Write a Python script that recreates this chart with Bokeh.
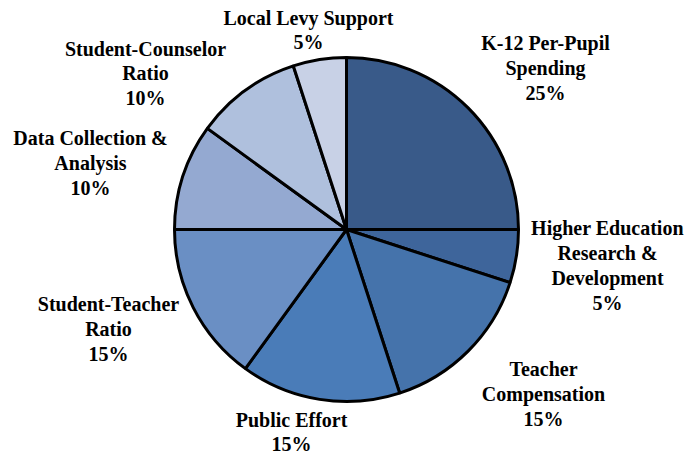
import math
from bokeh.plotting import figure
from bokeh.models import Range1d, ColumnDataSource
from bokeh.core.properties import value
from bokeh.embed import file_html
from bokeh.resources import INLINE

# ---- data ----
categories = [
    "K-12 Per-Pupil\nSpending",
    "Higher Education\nResearch &\nDevelopment",
    "Teacher\nCompensation",
    "Public Effort",
    "Student-Teacher\nRatio",
    "Data Collection &\nAnalysis",
    "Student-Counselor\nRatio",
    "Local Levy Support",
]
shares = [25, 5, 15, 15, 15, 10, 10, 5]
colors = ["#395A89", "#3E659B", "#4573AB", "#4A7CB8",
          "#6A8FC4", "#94A9D1", "#AFC0DD", "#C8D1E6"]

# ---- layout (image pixel coordinates) ----
W, H = 688, 456
cx_px, cy_px, r_px = 346, 229, 172
label_px = [(545, 67.7), (607, 265), (543, 393.5), (291, 431.5),
            (108, 328.3), (90, 162.3), (145, 73), (308, 29.5)]

def to_y(py):
    return H - py

total = float(sum(shares))
starts, ends = [], []
cum = 0.0
for s in shares:
    starts.append(math.pi / 2 - 2 * math.pi * cum / total)
    cum += s
    ends.append(math.pi / 2 - 2 * math.pi * cum / total)

src = ColumnDataSource(dict(start=starts, end=ends, color=colors))

p = figure(width=W, height=H, output_backend="svg", toolbar_location=None,
           x_range=Range1d(0, W), y_range=Range1d(0, H),
           min_border=0)
p.axis.visible = False
p.grid.visible = False
p.outline_line_color = None
p.background_fill_color = "white"
p.border_fill_color = "white"

p.wedge(x=cx_px, y=to_y(cy_px), radius=r_px, start_angle="start", end_angle="end",
        direction="clock", fill_color="color", line_color="black", line_width=3,
        source=src)

texts = [f"{c}\n{s}%" for c, s in zip(categories, shares)]
lsrc = ColumnDataSource(dict(x=[lp[0] for lp in label_px],
                             y=[to_y(lp[1]) for lp in label_px],
                             t=texts))
p.text(x="x", y="y", text="t", source=lsrc, text_align="center",
       text_baseline="middle", text_font=value("Liberation Serif"),
       text_font_style="bold", text_font_size="20px", text_line_height=1.13,
       text_color="black")

open("out.html", "w").write(file_html(p, INLINE))
